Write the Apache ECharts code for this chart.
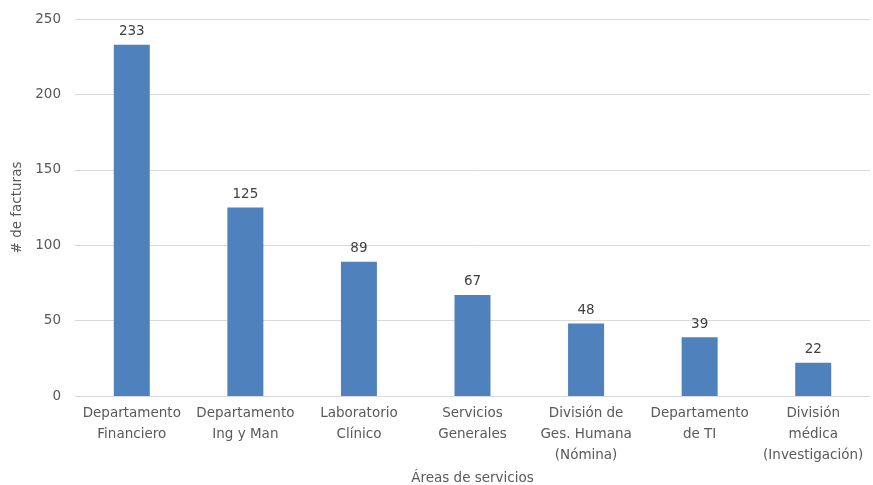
<!DOCTYPE html>
<html>
<head>
<meta charset="utf-8">
<script src="https://cdn.jsdelivr.net/npm/echarts@6/dist/echarts.min.js"></script>
<style>
  html, body { margin: 0; padding: 0; background: #fff; }
  #main { width: 873px; height: 485px; }
</style>
</head>
<body>
<div id="main"></div>
<script>
// categorías y valores
var categorias = [
  'Departamento\nFinanciero',
  'Departamento\nIng y Man',
  'Laboratorio\nClínico',
  'Servicios\nGenerales',
  'División de\nGes. Humana\n(Nómina)',
  'Departamento\nde TI',
  'División\nmédica\n(Investigación)'
];
var facturas = [233, 125, 89, 67, 48, 39, 22];
var ticksY = [0, 50, 100, 150, 200, 250];

var fuente = '"DejaVu Sans", sans-serif';
var chart = echarts.init(document.getElementById('main'));

chart.setOption({
  animation: false,
  textStyle: { fontFamily: fuente },
  grid: { left: 75, right: 3, top: 19, bottom: 89, outerBoundsMode: 'none', containLabel: false },
  xAxis: {
    type: 'category',
    data: categorias,
    name: 'Áreas de servicios',
    nameLocation: 'middle',
    nameGap: 75,
    nameTextStyle: { color: '#595959', fontSize: 13.5, fontFamily: fuente },
    axisLine: { lineStyle: { color: '#d9d9d9' } },
    axisTick: { show: false },
    axisLabel: {
      color: '#595959', fontSize: 13.5, lineHeight: 21, margin: 7,
      interval: 0, fontFamily: fuente
    }
  },
  yAxis: {
    type: 'value',
    min: ticksY[0],
    max: ticksY[ticksY.length - 1],
    interval: 50,
    name: '# de facturas',
    nameLocation: 'middle',
    nameGap: 48,
    nameTextStyle: { color: '#595959', fontSize: 13.5, fontFamily: fuente },
    axisLine: { show: false },
    axisTick: { show: false },
    splitLine: { lineStyle: { color: '#d9d9d9' } },
    axisLabel: { color: '#595959', fontSize: 13.5, margin: 14, fontFamily: fuente }
  },
  series: [{
    type: 'bar',
    data: facturas,
    barWidth: 36,
    itemStyle: { color: '#4f81bd' },
    label: {
      show: true, position: 'top', distance: 6,
      color: '#404040', fontSize: 13.5, fontFamily: fuente
    }
  }]
});
</script>
</body>
</html>
